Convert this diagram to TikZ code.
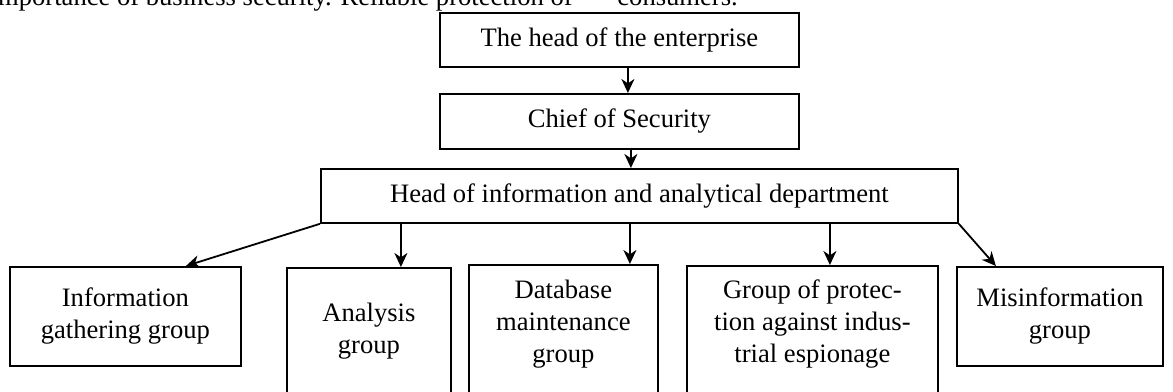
\documentclass[tikz,border=0pt]{standalone}
\usepackage{fontspec}
\setmainfont{Liberation Serif}
\usetikzlibrary{arrows.meta}
\tikzset{
  unit/.style={draw, line width=0.9pt, anchor=north west, align=center, inner sep=0pt,
    font=\fontsize{13.3}{16}\selectfont},
  link/.style={line width=0.9pt, -{Stealth[length=7pt, width=6.5pt, inset=2.2pt]}},
  prose/.style={inner sep=0pt, font=\fontsize{13.3}{16}\selectfont}
}
\begin{document}
\begin{tikzpicture}[x=0.5pt, y=-0.5pt]
\useasboundingbox (0,0) rectangle (1173,391);
\clip (0,0) rectangle (1173,391);
\node[prose, anchor=base east] (intro) at (573,5) {importance of business security. Reliable protection of};
\node[prose, anchor=base west] (introend) at (617,5) {consumers.};
\node[unit, minimum width=179.5pt, minimum height=27pt] (head) at (439,12) {The head of the enterprise};
\node[unit, minimum width=179.5pt, minimum height=27.5pt] (chief) at (439,93) {Chief of Security};
\node[unit, minimum width=318.5pt, minimum height=27pt] (dept) at (320,168) {Head of information and analytical department};
\node[unit, minimum width=115.5pt, minimum height=49.5pt] (gather) at (9,266) {Information\\gathering group};
\node[unit, minimum width=82pt, minimum height=76pt, text depth=16pt] (analysis) at (286,267) {Analysis\\group};
\node[unit, minimum width=94.5pt, minimum height=71pt, text depth=15pt] (dbase) at (468,264) {Database\\maintenance\\group};
\node[unit, minimum width=125.5pt, minimum height=70.5pt, text depth=15pt] (protect) at (686,265) {Group of protec-\\tion against indus-\\trial espionage};
\node[unit, minimum width=103pt, minimum height=49.5pt] (misinfo) at (956,266) {Misinformation\\group};
\draw[link] ([xshift=4.25pt]head.south) -- ([xshift=4.25pt]chief.north);
\draw[link] ([xshift=5.75pt]chief.south) -- ([xshift=-4.25pt]dept.north);
\draw[link] (dept.south west) -- ([xshift=30.25pt]gather.north);
\draw[link] ([xshift=-119.25pt]dept.south) -- ([xshift=16pt]analysis.north);
\draw[link] ([xshift=-4.75pt]dept.south) -- ([xshift=33.25pt]dbase.north);
\draw[link] ([xshift=95.25pt]dept.south) -- ([xshift=8.75pt]protect.north);
\draw[link] (dept.south east) -- ([xshift=-32pt]misinfo.north);
\end{tikzpicture}
\end{document}
